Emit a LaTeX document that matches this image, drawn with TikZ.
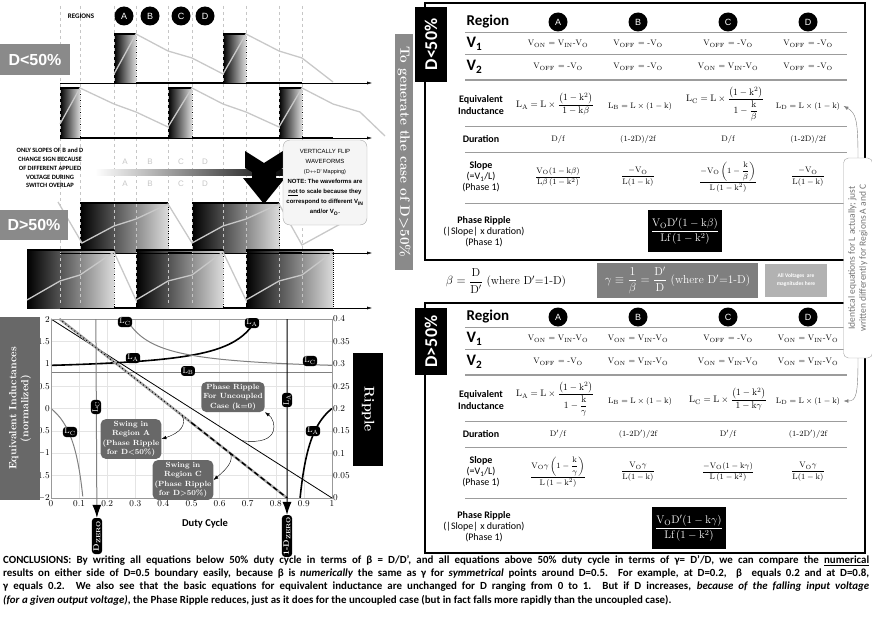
\documentclass[tikz,border=0pt]{standalone}
\usepackage{amsmath}
\usepackage{fontspec}
\setsansfont{Carlito}
\newfontfamily\arialf{Liberation Sans}
\usetikzlibrary{arrows.meta,calc,positioning}
\definecolor{boxgray}{HTML}{8A8A8A}
\definecolor{darkbox}{HTML}{686868}
\definecolor{wavegray}{HTML}{C8C8C8}
\definecolor{gridgray}{HTML}{E4E4E4}
\definecolor{rulegray}{HTML}{9C9C9C}
\definecolor{lightbox}{HTML}{B2B2B2}
\newcommand{\von}{V\textsubscript{ON} = V\textsubscript{IN}-V\textsubscript{O}}
\newcommand{\voff}{V\textsubscript{OFF} = -V\textsubscript{O}}

\begin{document}
\begin{tikzpicture}[x=1pt,y=-1pt,>=Latex,font=\small]
\tikzstyle{regdot}=[circle,fill=black,text=white,inner sep=0pt,minimum size=19pt,font=\arialf\small]
\tikzstyle{wave}=[draw=wavegray,line width=1.3pt]
\tikzstyle{pulse}=[left color=black,right color=gray!28]
\tikzstyle{edge}=[black,densely dotted,line width=1pt]
\tikzstyle{low}=[black,line width=1.6pt]
\tikzstyle{axis}=[black,-{Latex[length=5pt,width=3pt]}]
\tikzstyle{tag}=[fill=boxgray,text=white,font=\arialf\bfseries\fontsize{16}{16}\selectfont]
\tikzstyle{phasetag}=[fill=black,text=white,rotate=90,font=\sffamily\bfseries\fontsize{18}{18}\selectfont,minimum height=32pt]
\tikzstyle{lbl}=[fill=black,text=white,rounded corners=3pt,inner sep=1.5pt,font=\footnotesize]
\tikzstyle{swing}=[fill=darkbox,text=white,rounded corners=5pt,align=center,inner sep=2pt,font=\bfseries\fontsize{7.5}{9.5}\selectfont]
\tikzstyle{cell}=[font=\footnotesize]
\tikzstyle{eqcell}=[font=\fontsize{9.5}{11}\selectfont]
\tikzstyle{rowlbl}=[align=center,font=\sffamily\fontsize{10}{11}\selectfont]
\tikzstyle{hrule}=[rulegray,line width=0.9pt]
\tikzstyle{ripbox}=[fill=black,text=white,minimum width=74pt,minimum height=42pt,inner sep=2pt,font=\fontsize{11}{12}\selectfont]
\useasboundingbox (0,0) rectangle (872,618);

% ---------------- waveforms ----------------
\foreach \a/\b/\t/\g in {114/136/34/83,223/246/34/83,60/80/88/138,168/192/88/138,279/302/88/138,
  80/168/203/253,192/279/203/253,27/114/250/308,136/223/250/308,246/333/250/308}{
  \shade[pulse] (\a,\t) rectangle (\b,\g);
  \draw[low] (\a,\t) -- (\b,\t);
  \draw[edge] (\b,\t) -- (\b,\g);
}
\foreach \x in {60,80,114,136,168,192,223,246,279,302}
  \draw[gray!45,dashed] (\x,6) -- (\x,304);
\draw[low] (136,83) -- (223,83) (246,83) -- (302,83);
\draw[low] (80,138) -- (168,138) (192,138) -- (279,138) (302,138) -- (333,138);
\draw[low] (168,253) -- (192,253) (279,253) -- (302,253);
\draw[low] (114,308) -- (136,308) (223,308) -- (246,308);
\draw[axis] (60,83) -- (372,83);
\draw[axis] (60,138) -- (372,138);
\draw[axis] (60,253) -- (372,253);
\draw[axis] (60,308) -- (372,308);
\draw[wave] (114,74) -- (136,34) -- (168,51) -- (192,58) -- (223,74) -- (246,34) -- (279,51) -- (302,58) -- (333,82);
\draw[wave] (60,124) -- (80,88) -- (114,104) -- (136,112) -- (168,127) -- (192,88) -- (223,104) -- (246,112) -- (279,127) -- (302,88) -- (333,104) -- (360,112) -- (385,136);
\draw[wave] (58,202) -- (82,243) -- (114,226) -- (136,219) -- (168,204) -- (192,243) -- (223,226) -- (246,219) -- (279,204) -- (302,245) -- (333,228) -- (362,212);
\draw[wave] (27,300) -- (60,281) -- (80,275) -- (114,252) -- (136,300) -- (168,281) -- (192,275) -- (223,252) -- (246,300) -- (279,281) -- (302,275) -- (333,252);

\node[font=\sffamily\bfseries\fontsize{7}{7}\selectfont] (regions) at (81,16) {REGIONS};
\node[regdot] (ra) at (124,16) {A};
\node[regdot] (rb) at (150,16) {B};
\node[regdot] (rc) at (181,16) {C};
\node[regdot] (rd) at (205,16) {D};

\node[tag,minimum width=70pt,minimum height=31pt] (low50) at (35,59.5) {D<50\%};
\node[tag,minimum width=68pt,minimum height=30pt] (high50) at (34,225) {D>50\%};

\node[align=center,font=\sffamily\bfseries\fontsize{6.5}{8.8}\selectfont] (only) at (50,168)
  {ONLY SLOPES OF B and D\\CHANGE SIGN BECAUSE\\OF DIFFERENT APPLIED\\VOLTAGE DURING\\SWITCH OVERLAP};
\shade[left color=white,right color=black] (95,169) rectangle (292,175);
\foreach \x/\l in {125/A,150/B,181/C,205/D}{
  \node[text=gray!45,font=\arialf\fontsize{8}{8}\selectfont] at (\x,162) {\l};
  \node[text=gray!45,font=\arialf\fontsize{8}{8}\selectfont] at (\x,184) {\l};
}
\fill[black] (245,151) -- (264,163) -- (283,151) -- (283,168) -- (276,172) -- (276,178) -- (285,178)
  -- (264,204) -- (243,178) -- (252,178) -- (252,172) -- (245,168) -- cycle;
\node[draw=gray!70,fill=gray!8,rounded corners=7pt,align=center,minimum width=84pt,minimum height=85pt,inner sep=1pt,
  font=\arialf\fontsize{6}{10}\selectfont] (flip) at (325,182.5)
  {VERTICALLY FLIP\\WAVEFORMS\\{\fontsize{5.5}{10}\selectfont(D$\leftrightarrow$D' Mapping)}\\
   \textbf{NOTE: The waveforms are}\\\textbf{\underline{not} to scale because they}\\
   \textbf{correspond to different V\textsubscript{IN}}\\\textbf{and/or V\textsubscript{O}.}};
\node[fill=boxgray,text=white,rotate=-90,minimum width=235pt,minimum height=18pt,inner sep=1pt,
  font=\bfseries\fontsize{13.5}{14}\selectfont] (gen) at (404,152) {To generate the case of D>50\%};

% ---------------- graph ----------------
\begin{scope}[shift={(51,408.5)}]
\begin{scope}[x=281pt,y=44.75pt]
\foreach \d in {0.1,0.2,0.3,0.4,0.5,0.6,0.7,0.8,0.9} \draw[gridgray] (\d,-2) -- (\d,2);
\foreach \v in {-1.5,-1,-0.5,0,0.5,1,1.5} \draw[gridgray] (0,\v) -- (1,\v);
\foreach \v/\t in {2/2,1.5/1.5,1/1,0.5/0.5,0/0,-0.5/$-$0.5,-1/$-$1,-1.5/$-$1.5,-2/$-$2}
  \node[anchor=east,inner sep=1pt,font=\fontsize{9}{9}\selectfont] at (0,\v) {\t};
\foreach \v/\t in {2/0.4,1.5/0.35,1/0.3,0.5/0.25,0/0.2,-0.5/0.15,-1/0.1,-1.5/0.05,-2/0}
  \node[anchor=west,inner sep=1pt,font=\fontsize{9}{9}\selectfont] at (1,\v) {\t};
\foreach \d/\t in {0/0,0.1/0.1,0.2/0.2,0.3/0.3,0.4/0.4,0.5/0.5,0.6/0.6,0.7/0.7,0.8/0.8,0.9/0.9,1/1}
  \node[anchor=north,inner sep=2pt,font=\fontsize{9}{9}\selectfont] at (\d,-2) {\t};
\draw[gray,line width=1pt] (0,0.81) -- (1,0.81);
\draw[black,line width=1.6pt,domain=0:0.7316,samples=60] plot (\x,{0.9639/(1-0.19*\x/(1-\x))});
\draw[black,line width=1.6pt,domain=0.8864:1,samples=40] plot (\x,{0.9639*(1-\x)/(1-1.19*\x)});
\draw[gray,line width=1pt,domain=0:0.1136,samples=40] plot (\x,{0.9639*\x/(1.19*\x-0.19)});
\draw[gray,line width=1pt,domain=0.2684:1,samples=60] plot (\x,{0.9639*\x/(1.19*\x-0.19)});
\draw[black,line width=0.8pt] (0,2) -- (1,-2);
\draw[gray!70,line width=2.4pt] (0.0303,2) -- (0.8403,-2);
\draw[black,line width=1.2pt,dash pattern=on 0.8pt off 3pt] (0.0303,2) -- (0.5,-0.319);
\draw[black,line width=1.4pt,dash pattern=on 5pt off 3pt] (0.5,-0.319) -- (0.8403,-2);
\coordinate (dztop) at (0.1597,2);
\coordinate (odztop) at (0.8403,2);
\coordinate (swA) at (0.466,-0.151);
\coordinate (swC) at (0.637,-0.996);
\coordinate (unc) at (0.68,-0.72);
\end{scope}
\end{scope}
\draw[gray!80] (51,319) rectangle (332,498);

\node[lbl,rotate=90,font=\bfseries\footnotesize,minimum width=36pt] (dz) at (97,536) {D\textsubscript{ZERO}};
\node[lbl,rotate=90,font=\bfseries\footnotesize,minimum width=36pt] (odz) at (287,536) {1-D\textsubscript{ZERO}};
\draw[gray,line width=1pt,-{Latex[length=13pt,width=9pt,color=black]}] (dztop) -- (dz);
\draw[black,line width=1pt,-{Latex[length=13pt,width=9pt]}] (odztop) -- (odz);

\node[lbl] (lc1) at (125,322) {$\mathrm{L_C}$};
\node[lbl] (la1) at (133,358) {$\mathrm{L_A}$};
\node[lbl] (lb) at (188,371) {$\mathrm{L_B}$};
\node[lbl,rotate=90] (lc2) at (96,407) {$\mathrm{L_C}$};
\node[lbl] (lc3) at (70,432) {$\mathrm{L_C}$};
\node[lbl] (la2) at (252,323) {$\mathrm{L_A}$};
\node[lbl] (lc4) at (310,361) {$\mathrm{L_C}$};
\node[lbl,rotate=90] (la3) at (287,400) {$\mathrm{L_A}$};
\node[lbl] (la4) at (313,431) {$\mathrm{L_A}$};

\node[swing] (swbA) at (131,439) {Swing in\\Region A\\(Phase Ripple\\for D<50\%)};
\node[swing] (swbC) at (183,480) {Swing in\\Region C\\(Phase Ripple\\for D>50\%)};
\node[swing] (unbox) at (233,397) {Phase Ripple\\For Uncoupled\\Case (k=0)};
\draw[->] (swA) .. controls (187,425) and (180,433) .. (swbA.east);
\draw[->] (swC) .. controls (234,460) and (228,468) .. (swbC.east);
\draw[->] (unc) .. controls (282,446) and (276,420) .. (unbox.south east);

\node[fill=darkbox,text=white,rotate=90,minimum width=183pt,minimum height=40pt,align=center,inner sep=1pt,
  font=\bfseries\fontsize{10.5}{12}\selectfont] (ylab) at (20,408.5) {Equivalent Inductances\\(normalized)};
\node[fill=black,text=white,rotate=-90,minimum width=113pt,minimum height=30pt,
  font=\bfseries\fontsize{14}{14}\selectfont] (ripple) at (368,409.5) {Ripple};
\node[font=\sffamily\bfseries\fontsize{10.5}{10.5}\selectfont] (duty) at (205,524) {Duty Cycle};

% ---------------- tables ----------------
\draw[black,line width=2.5pt] (425,3) rectangle (865,260);
\draw[black,line width=2.5pt] (425,303) rectangle (865,553);
\foreach \sh in {0,295}{
\begin{scope}[shift={(0,\sh)}]
\node[anchor=west,font=\sffamily\bfseries\fontsize{15}{15}\selectfont] at (463,22) {Region};
\node[regdot] at (558,22) {A};
\node[regdot] at (638,22) {B};
\node[regdot] at (728,22) {C};
\node[regdot] at (808,22) {D};
\node[anchor=west,font=\sffamily\bfseries\fontsize{16}{16}\selectfont] at (463,44) {V\textsubscript{1}};
\node[anchor=west,font=\sffamily\bfseries\fontsize{16}{16}\selectfont] at (463,67) {V\textsubscript{2}};
\node[rowlbl,font=\sffamily\bfseries\fontsize{10}{12}\selectfont] at (481,105) {Equivalent\\Inductance};
\node[rowlbl,font=\sffamily\bfseries\fontsize{10}{12}\selectfont] at (481,139) {Duration};
\node[rowlbl] at (481,177) {\textbf{Slope}\\(=V\textsubscript{1}/L)\\(Phase 1)};
\node[rowlbl] at (484,232) {\textbf{Phase Ripple}\\(|Slope| x duration)\\(Phase 1)};
\draw[hrule] (465,32) -- (847,32);
\draw[hrule] (465,54) -- (847,54);
\draw[hrule,line width=1.4pt] (465,80) -- (847,80);
\draw[hrule] (465,126) -- (847,126);
\draw[hrule] (465,152) -- (847,152);
\draw[hrule] (465,203) -- (847,203);
\end{scope}
}
\node[phasetag,minimum width=75pt] (tagA) at (431,44.5) {D<50\%};
\node[phasetag,minimum width=67pt] (tagB) at (431,341.5) {D>50\%};

% D<50% cells
\node[cell] at (558,44) {\von};
\node[cell] at (638,44) {\voff};
\node[cell] at (728,44) {\voff};
\node[cell] at (808,44) {\voff};
\node[cell] at (558,67) {\voff};
\node[cell] at (638,67) {\voff};
\node[cell] at (728,67) {\von};
\node[cell] at (808,67) {\voff};
\node[eqcell] at (555,104) {$\mathrm{L_A = L\times\dfrac{\left(1-k^2\right)}{1-k\beta}}$};
\node[cell] at (640,106) {$\mathrm{L_B = L\times(1-k)}$};
\node[eqcell] at (725,104) {$\mathrm{L_C = L\times\dfrac{\left(1-k^2\right)}{1-\dfrac{k}{\beta}}}$};
\node[cell] (ldtop) at (808,106) {$\mathrm{L_D = L\times(1-k)}$};
\node[cell] at (558,139) {D/f};
\node[cell] at (638,139) {(1-2D)/2f};
\node[cell] at (728,139) {D/f};
\node[cell] at (808,139) {(1-2D)/2f};
\node[cell] at (558,177) {$\dfrac{\mathrm{V_O(1-k\beta)}}{\mathrm{L\beta\left(1-k^2\right)}}$};
\node[cell] at (638,177) {$\dfrac{\mathrm{-V_O}}{\mathrm{L(1-k)}}$};
\node[cell] at (728,177) {$\dfrac{\mathrm{-V_O\left(1-\dfrac{k}{\beta}\right)}}{\mathrm{L\left(1-k^2\right)}}$};
\node[cell] at (808,177) {$\dfrac{\mathrm{-V_O}}{\mathrm{L(1-k)}}$};
\node[ripbox] (ripA) at (685,231) {$\dfrac{\mathrm{V_OD'(1-k\beta)}}{\mathrm{Lf\left(1-k^2\right)}}$};

% D>50% cells
\node[cell] at (558,339) {\von};
\node[cell] at (638,339) {\von};
\node[cell] at (728,339) {\voff};
\node[cell] at (808,339) {\von};
\node[cell] at (558,362) {\voff};
\node[cell] at (638,362) {\von};
\node[cell] at (728,362) {\von};
\node[cell] at (808,362) {\von};
\node[eqcell] at (555,399) {$\mathrm{L_A = L\times\dfrac{\left(1-k^2\right)}{1-\dfrac{k}{\gamma}}}$};
\node[cell] at (640,401) {$\mathrm{L_B = L\times(1-k)}$};
\node[eqcell] at (728,399) {$\mathrm{L_C = L\times\dfrac{\left(1-k^2\right)}{1-k\gamma}}$};
\node[cell] (ldbot) at (808,401) {$\mathrm{L_D = L\times(1-k)}$};
\node[cell] at (558,434) {D$'$/f};
\node[cell] at (638,434) {(1-2D$'$)/2f};
\node[cell] at (728,434) {D$'$/f};
\node[cell] at (808,434) {(1-2D$'$)/2f};
\node[cell] at (558,472) {$\dfrac{\mathrm{V_O\gamma\left(1-\dfrac{k}{\gamma}\right)}}{\mathrm{L\left(1-k^2\right)}}$};
\node[cell] at (638,472) {$\dfrac{\mathrm{V_O\gamma}}{\mathrm{L(1-k)}}$};
\node[cell] at (728,472) {$\dfrac{\mathrm{-V_O(1-k\gamma)}}{\mathrm{L\left(1-k^2\right)}}$};
\node[cell] at (808,472) {$\dfrac{\mathrm{V_O\gamma}}{\mathrm{L(1-k)}}$};
\node[ripbox] (ripB) at (689,528) {$\dfrac{\mathrm{V_OD'(1-k\gamma)}}{\mathrm{Lf\left(1-k^2\right)}}$};

% ---------------- middle strip ----------------
\node[font=\fontsize{11.5}{12}\selectfont] (betadef) at (506,281) {$\beta=\dfrac{\mathrm{D}}{\mathrm{D'}}$ (where D$'$=1-D)};
\node[fill=darkbox!85,text=white,minimum width=161pt,minimum height=35pt,font=\fontsize{11.5}{12}\selectfont]
  (gammadef) at (677.5,280.5) {$\gamma\equiv\dfrac{1}{\beta}=\dfrac{\mathrm{D'}}{\mathrm{D}}$ (where D$'$=1-D)};
\node[fill=lightbox,text=white,minimum width=62pt,minimum height=33pt,align=center,
  font=\sffamily\bfseries\fontsize{5.5}{8}\selectfont] (allv) at (796,280.5) {All Voltages\ \ are\\magnitudes here};
\node[draw=gray!70,fill=white,rounded corners=5pt,rotate=90,text=gray!90!black,align=center,minimum width=200pt,
  minimum height=29pt,inner sep=1pt,font=\sffamily\fontsize{9.5}{11}\selectfont] (ident) at (858,258)
  {Identical equations for L actually; just\\written differently for Regions A and C};
\draw[->,gray] (ident.east) .. controls (858,120) and (856,113) .. (ldtop.east);
\draw[->,gray] (ident.west) .. controls (858,396) and (856,401) .. (ldbot.east);

% ---------------- conclusions ----------------
\node[anchor=north west,align=left,inner sep=0pt,font=\sffamily\bfseries\fontsize{10.9}{13.4}\selectfont] (concl) at (3,555)
{\makebox[866pt][s]{CONCLUSIONS: By writing all equations below 50\% duty cycle in terms of β = D/D’, and all equations above 50\% duty cycle in terms of γ= D’/D, we can compare the \underline{numerical}}\\
\makebox[866pt][s]{results on either side of D=0.5 boundary easily, because β is \textit{numerically} the same as γ for \textit{symmetrical} points around D=0.5. For example, at D=0.2,\ \ β\ \ equals 0.2 and at D=0.8,}\\
\makebox[866pt][s]{γ equals 0.2. We also see that the basic equations for equivalent inductance are unchanged for D ranging from 0 to 1. But if D increases, \textit{because of the falling input voltage}}\\
\textit{(for a given output voltage)}, the Phase Ripple reduces, just as it does for the uncoupled case (but in fact falls more rapidly than the uncoupled case).};
\end{tikzpicture}
\end{document}
